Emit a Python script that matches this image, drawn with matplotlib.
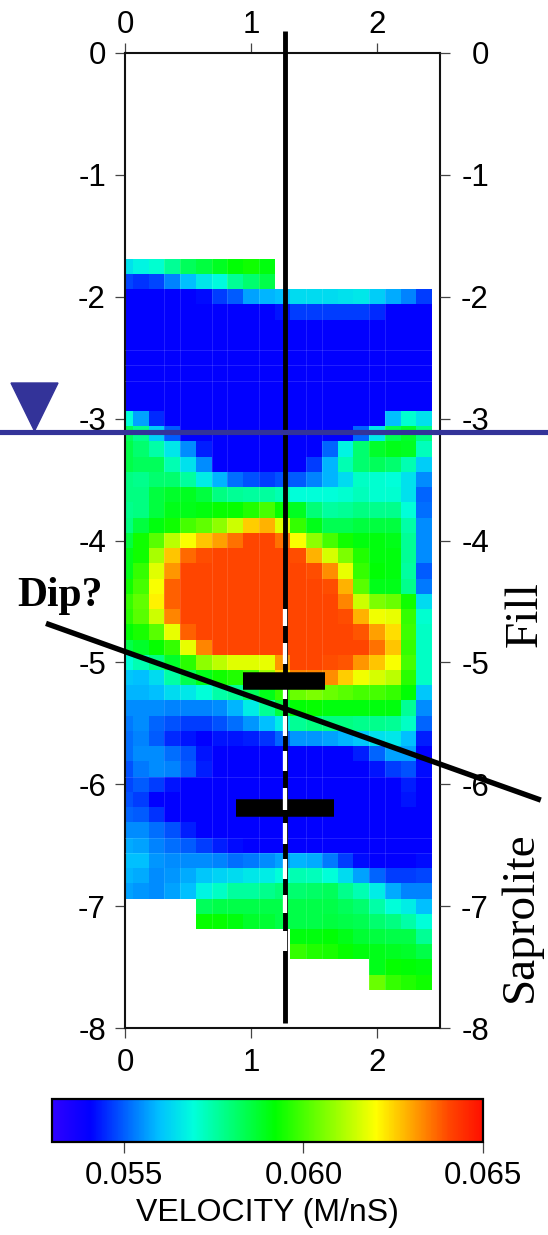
import numpy as np
import matplotlib
matplotlib.use("Agg")
import matplotlib.pyplot as plt
from matplotlib.colors import LinearSegmentedColormap

plt.rcParams['font.family'] = ['Liberation Sans', 'DejaVu Sans']
plt.rcParams['axes.unicode_minus'] = False

N = np.nan
# velocity in 1e-4 m/ns, one row per depth, one column per distance
velocity_rows = [
 [565,568,571,577,583,586,589,592,594,591,N,N,N,N,N,N,N,N,N,N],
 [548,546,548,554,560,566,569,577,581,585,N,N,N,N,N,N,N,N,N,N],
 [541,541,541,541,541,542,547,550,557,559,560,564,564,564,565,566,562,558,554,547],
 [541,541,541,541,541,541,541,541,541,541,543,547,547,547,547,547,545,541,541,541],
 [541,541,541,541,541,541,541,541,541,541,541,541,541,541,541,541,541,541,541,541],
 [541,541,541,541,541,541,541,541,541,541,541,541,541,541,541,541,541,541,541,541],
 [541,541,541,541,541,541,541,541,541,541,541,541,541,541,541,541,541,541,541,541],
 [541,541,541,541,541,541,541,541,541,541,541,541,541,541,541,541,541,541,541,541],
 [541,541,541,541,541,541,541,541,541,541,541,541,541,541,541,541,541,541,541,541],
 [541,541,541,541,541,541,541,541,541,541,541,541,541,541,541,541,541,541,541,541],
 [570,557,545,541,541,541,541,541,541,541,541,541,541,541,541,541,541,560,571,565],
 [583,578,562,550,541,541,541,541,541,541,541,541,541,541,541,551,566,584,588,579],
 [585,581,575,566,555,544,541,541,541,541,541,541,541,551,568,581,588,590,589,573],
 [585,583,583,574,565,555,541,541,541,541,541,541,547,559,574,581,583,581,574,562],
 [579,578,581,581,576,567,559,552,549,547,549,550,554,559,564,572,571,570,565,555],
 [579,579,586,588,589,586,579,577,576,576,574,570,570,570,571,573,571,571,565,551],
 [578,579,586,590,590,591,593,593,596,600,593,589,580,576,577,579,578,578,570,552],
 [579,586,591,594,600,603,608,615,626,629,617,598,590,584,584,586,586,586,575,555],
 [586,594,602,613,620,627,631,636,641,641,636,620,608,600,594,591,591,590,577,555],
 [590,594,611,627,637,640,641,641,641,641,641,640,629,616,606,596,591,591,577,555],
 [590,598,617,632,641,641,641,641,641,641,641,641,640,633,618,598,592,591,576,550],
 [594,600,620,638,641,641,641,641,641,641,641,641,641,640,629,602,590,590,578,553],
 [598,603,622,638,641,641,641,641,641,641,641,641,641,641,634,615,606,604,594,564],
 [597,602,615,634,641,641,641,641,641,641,641,641,641,641,640,629,619,618,598,571],
 [592,595,602,618,638,641,641,641,641,641,641,641,641,641,641,639,631,624,599,572],
 [585,588,593,598,618,634,641,641,641,641,641,641,641,641,641,641,636,627,598,572],
 [570,574,579,588,597,608,613,617,617,618,632,641,641,640,639,632,627,620,600,572],
 [561,560,564,575,584,590,594,596,600,610,625,634,634,633,626,619,616,613,597,572],
 [559,559,560,564,566,570,575,577,583,590,598,604,606,604,602,600,600,598,592,561],
 [555,555,555,554,554,554,555,559,567,577,586,592,593,591,591,591,591,591,577,555],
 [553,555,551,549,547,547,549,552,556,560,567,577,579,579,579,578,578,577,572,551],
 [552,554,550,545,543,541,543,543,544,546,551,556,556,557,559,561,565,566,560,544],
 [552,555,555,552,549,543,541,541,541,541,541,541,541,541,541,544,551,557,557,541],
 [549,553,555,554,550,544,541,541,541,541,541,541,541,541,541,541,543,547,549,542],
 [548,550,547,543,541,541,541,541,541,541,541,541,541,541,541,541,541,541,544,541],
 [549,547,541,541,541,541,541,541,541,541,541,541,541,541,541,541,541,541,543,541],
 [551,550,546,541,541,541,541,541,541,541,541,541,541,541,541,541,541,541,541,541],
 [555,555,552,549,544,541,541,541,541,541,541,541,541,541,541,541,541,541,541,541],
 [558,557,554,552,550,547,544,542,541,541,541,541,541,541,541,541,541,541,541,541],
 [560,560,556,555,555,555,554,552,553,555,557,559,558,553,547,542,541,541,541,542],
 [559,558,555,556,558,561,563,564,566,567,570,574,573,570,564,557,551,547,547,548],
 [557,556,555,557,560,568,572,576,576,578,580,581,582,583,578,574,567,558,554,554],
 [N,N,N,N,N,583,585,585,585,585,585,585,585,585,583,581,575,570,567,560],
 [N,N,N,N,N,593,593,591,588,587,585,585,585,586,585,584,581,579,575,570],
 [N,N,N,N,N,N,N,N,N,N,N,591,591,592,590,587,586,585,585,577],
 [N,N,N,N,N,N,N,N,N,N,N,598,596,595,593,591,590,589,588,585],
 [N,N,N,N,N,N,N,N,N,N,N,N,N,N,N,N,590,593,592,591],
 [N,N,N,N,N,N,N,N,N,N,N,N,N,N,N,N,604,598,596,594],
]
distance = [0.125 * i for i in range(20)]
depth = [-1.75 - 0.125 * i for i in range(48)]
x_ticks = [0, 1, 2]
y_ticks = [0, -1, -2, -3, -4, -5, -6, -7, -8]
cbar_ticks = [0.055, 0.060, 0.065]
cbar_labels = ['0.055', '0.060', '0.065']

borehole_x = 1.268
borehole_y = [0.18, -7.96]
white_dashes_upper = [(-4.56, -4.70), (-4.84, -5.01), (-5.14, -5.30), (-5.44, -5.60),
                      (-5.73, -5.89)]
white_dashes_lower = [(-6.03, -6.21), (-6.32, -6.49), (-6.61, -6.78),
                      (-6.91, -7.06), (-7.20, -7.37)]
bar_1 = ([0.937, 1.587], -5.15)
bar_2 = ([0.88, 1.659], -6.195)
dip_x = [-0.627, 3.30]
dip_y = [-4.68, -6.13]
water_y = -3.107
seam_cols = [3, 4, 6, 7, 9, 12, 13, 16, 17]
seam_rows = [6, 7, 8, 34, 38, 39]

W, H = 548, 1235
fig = plt.figure(figsize=(W / 100, H / 100), dpi=100)
ax = fig.add_axes([125 / W, 1 - 1028 / H, 315 / W, 975 / H])

cmap = LinearSegmentedColormap.from_list('vel', [
    (0.0, '#3000ff'), (0.0917, '#0000ff'), (0.25, '#00c0ff'), (0.33, '#00ffdc'),
    (0.52, '#00ff00'), (0.755, '#ffff00'), (0.925, '#ff4500'), (1.0, '#ff1000')], N=512)

V = np.array(velocity_rows, dtype=float) / 1e4
xe = np.append(np.array(distance) - 0.0625, distance[-1] + 0.0625)
ye = np.append(np.array(depth) + 0.0625, depth[-1] - 0.0625)
mesh = ax.pcolormesh(xe, ye, np.ma.masked_invalid(V), cmap=cmap, vmin=0.053, vmax=0.065,
                     antialiased=False, linewidth=0)
# faint seams between raster cells
for c in seam_cols:
    ax.plot([xe[c], xe[c]], [ye[0], ye[-1]], color='white', lw=0.7, alpha=0.13, zorder=3)
for r in seam_rows:
    ax.plot([xe[0], xe[-1]], [ye[r], ye[r]], color='white', lw=0.7, alpha=0.13, zorder=3)

ax.set_xlim(0, 2.5)
ax.set_ylim(-8, 0)
ax.set_xticks(x_ticks)
ax.set_yticks(y_ticks)
ax.set_yticklabels([str(v) for v in y_ticks])
ax.tick_params(axis='x', length=7.2, width=0.9, labelsize=22.5, pad=7.5,
               top=True, labeltop=True, color='#444444')
ax.tick_params(axis='y', length=7.2, width=0.9, labelsize=22.5, pad=6.5, right=False, color='#444444')
for t in ax.xaxis.get_major_ticks():
    t.label2.set_va('baseline')
for s in ax.spines.values():
    s.set_linewidth(1.5)
    s.set_color('#111111')

# right-hand depth axis: labels right-aligned further out
ax_r = ax.twinx()
ax_r.set_ylim(-8, 0)
ax_r.set_yticks(y_ticks)
ax_r.set_yticklabels([str(v) for v in y_ticks])
ax_r.tick_params(axis='y', length=7.2, width=0.9, labelsize=22.5, pad=28, color='#444444')
for t in ax_r.yaxis.get_major_ticks():
    t.label2.set_ha('right')
for s in ax_r.spines.values():
    s.set_visible(False)

# overlays
ax.plot([borehole_x, borehole_x], borehole_y, color='black', lw=3.5, clip_on=False,
        solid_capstyle='butt', zorder=5)
for y0, y1 in white_dashes_upper:
    ax.plot([borehole_x, borehole_x], [y0, y1], color='white', lw=3.1, clip_on=False,
            solid_capstyle='butt', zorder=6)
ax.plot(bar_1[0], [bar_1[1]] * 2, color='black', lw=12.6, solid_capstyle='butt', zorder=7)
ax.plot(bar_2[0], [bar_2[1]] * 2, color='black', lw=12.6, solid_capstyle='butt', zorder=6)
for y0, y1 in white_dashes_lower:
    ax.plot([borehole_x, borehole_x], [y0, y1], color='white', lw=3.1, clip_on=False,
            solid_capstyle='butt', zorder=6.5)
ax.plot(dip_x, dip_y, color='black', lw=3.9, clip_on=False, solid_capstyle='butt', zorder=7)

trans = ax.get_yaxis_transform()
ax.plot([-1, 2], [water_y, water_y], transform=trans, color='#333399', lw=3.7,
        clip_on=False, zorder=8, solid_capstyle='butt')
fig.patches.append(plt.Polygon([(11 / W, 1 - 383 / H), (58 / W, 1 - 383 / H), (34.5 / W, 1 - 431 / H)],
                               closed=True, transform=fig.transFigure, color='#333399', zorder=8))

serif = ['Liberation Serif', 'DejaVu Serif']
fig.text(17 / W, 1 - 606 / H, 'Dip?', family=serif, fontweight='bold', fontsize=30, ha='left', va='baseline')
fig.text(537 / W, 1 - 614.5 / H, 'Fill', family=serif, fontsize=34, rotation=90, ha='center',
         va='baseline', rotation_mode='anchor')
fig.text(532 / W, 1 - 917 / H, 'Saprolite', family=serif, fontsize=34, rotation=90, ha='center',
         va='baseline', rotation_mode='anchor')

# colour bar
cax = fig.add_axes([52 / W, 1 - 1142 / H, 431 / W, 43 / H])
cb = fig.colorbar(mesh, cax=cax, orientation='horizontal', ticks=cbar_ticks)
cb.solids.set_edgecolor('face')
cb.ax.set_xticklabels(cbar_labels)
cb.ax.tick_params(length=8, width=0.9, labelsize=22.5, pad=6, color='#444444')
cb.outline.set_linewidth(1.6)
cb.set_label('VELOCITY (M/nS)', fontsize=23, labelpad=5)

fig.savefig('out.png', dpi=100)
